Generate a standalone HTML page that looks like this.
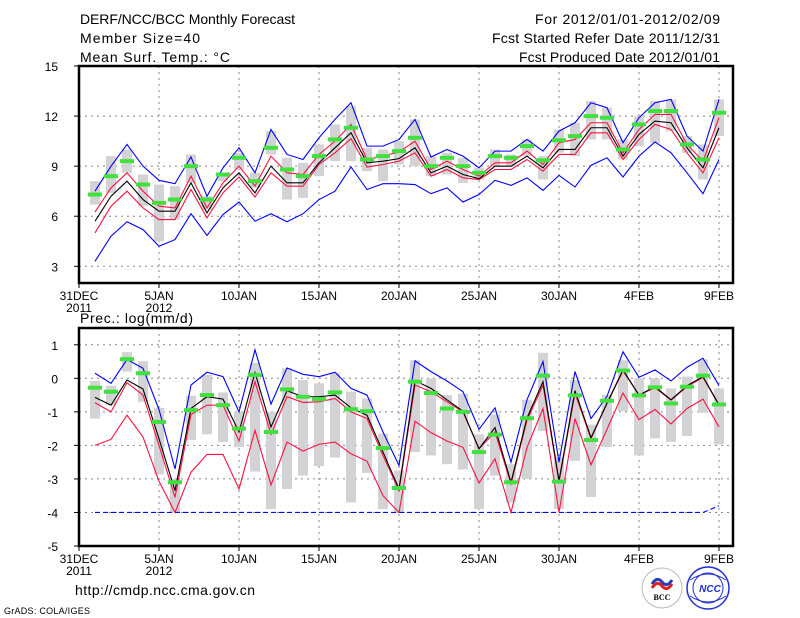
<!DOCTYPE html>
<html><head><meta charset="utf-8"><style>
html,body{margin:0;padding:0;background:#fff;}
svg{display:block;font-family:"Liberation Sans",sans-serif;}
</style></head><body>
<svg id="chart" width="800" height="618" viewBox="0 0 800 618" xmlns="http://www.w3.org/2000/svg">
<rect width="800" height="618" fill="#fff"/>
<g font-size="14" fill="#000">
<text x="80" y="24" textLength="215">DERF/NCC/BCC Monthly Forecast</text>
<text x="80" y="43" textLength="120">Member Size=40</text>
<text x="80" y="62" textLength="150">Mean Surf. Temp.: °C</text>
<text x="535" y="24" textLength="185">For 2012/01/01-2012/02/09</text>
<text x="492" y="43" textLength="228">Fcst Started Refer Date 2011/12/31</text>
<text x="519" y="62" textLength="201">Fcst Produced Date 2012/01/01</text>
<text x="80" y="323" textLength="113">Prec.: log(mm/d)</text>
<text x="75" y="595" textLength="180">http://cmdp.ncc.cma.gov.cn</text>
<text x="4" y="614" font-size="9" textLength="86">GrADS: COLA/IGES</text>
</g>
<g>
<circle cx="662" cy="588" r="20" fill="#fff" stroke="#bbb" stroke-width="1"/>
<path d="M652 584 q5 -8 10 -2 q5 6 10 -2" fill="none" stroke="#2040c0" stroke-width="3"/>
<path d="M652 588 q5 -8 10 -2 q5 6 10 -2" fill="none" stroke="#e02020" stroke-width="3"/>
<text x="662" y="600" font-size="8" font-weight="bold" text-anchor="middle" font-family="Liberation Serif,serif">BCC</text>
</g>
<g>
<circle cx="708" cy="588" r="21" fill="#fff" stroke="#2030d0" stroke-width="1.5"/>
<circle cx="708" cy="588" r="15" fill="none" stroke="#2030d0" stroke-width="1"/>
<path d="M690 580 q18 -12 36 0 M690 596 q18 12 36 0" fill="none" stroke="#2030d0" stroke-width="1"/>
<text x="710" y="592" font-size="10" font-weight="bold" font-style="italic" fill="#2030d0" text-anchor="middle">NCC</text>
</g>
<g id="top"></g>
<g id="bot"></g>
</svg>
<script>
const NS="http://www.w3.org/2000/svg";
const dayLabels=["31DEC","5JAN","10JAN","15JAN","20JAN","25JAN","30JAN","4FEB","9FEB"];
const yearLabels=["2011","2012"];
const tTicks=[3,6,9,12,15];
const pTicks=[-5,-4,-3,-2,-1,0,1];
// Temperature series (days 1..40)
const tBlueHi=[7.5,9.0,10.3,9.0,8.15,7.95,9.55,7.2,8.9,10.1,8.6,11.2,9.7,9.4,10.7,11.8,12.8,10.2,10.2,10.6,11.8,9.55,10.0,9.6,8.9,9.9,9.9,10.6,9.9,11.1,11.6,12.8,12.5,10.4,11.9,12.8,13.0,10.8,9.9,13.0];
const tBlueLo=[3.3,4.8,5.67,5.2,4.2,4.6,6.15,4.85,6.1,6.85,5.7,6.15,5.67,6.15,7.0,7.5,8.95,7.6,7.95,7.95,7.9,7.35,7.7,6.85,7.3,8.15,7.85,8.3,7.55,8.45,7.75,9.05,9.5,8.35,9.6,10.45,9.8,8.6,7.35,9.4];
const tMean=[5.7,7.2,8.1,7.0,6.3,6.3,8.0,6.2,7.7,8.6,7.4,9.0,8.0,8.0,9.2,10.1,11.0,9.2,9.3,9.45,10.1,8.6,9.0,8.5,8.25,9.0,9.0,9.6,8.9,10.0,10.0,11.3,11.3,9.6,10.9,11.7,11.6,10.1,8.9,11.3];
const tRedHi=[6.25,7.7,8.6,7.5,6.6,6.5,8.4,6.5,8.0,9.0,7.8,9.6,8.6,8.5,9.7,10.5,11.5,9.4,9.6,9.85,10.5,8.8,9.3,8.8,8.4,9.2,9.2,9.9,9.1,10.4,10.6,11.6,11.6,9.8,11.2,12.1,12.1,10.3,9.3,11.9];
const tRedLo=[5.0,6.6,7.5,6.5,5.8,5.8,7.6,5.9,7.4,8.35,7.15,8.6,7.8,7.8,9.1,9.8,10.65,8.95,9.1,9.3,9.8,8.4,8.8,8.3,8.2,8.8,8.8,9.4,8.7,9.7,9.7,11.0,11.0,9.4,10.6,11.5,11.2,9.8,8.6,10.7];
const tObs=[7.3,8.4,9.3,7.9,6.8,7.0,9.0,7.0,8.5,9.5,8.1,10.1,8.8,8.4,9.6,10.6,11.3,9.4,9.6,9.9,10.7,9.0,9.5,9.0,8.6,9.6,9.5,10.2,9.35,10.55,10.8,12.0,11.9,10.0,11.5,12.3,12.3,10.3,9.4,12.2];
const tBoxLo=[6.7,7.4,8.6,6.6,4.5,5.8,8.0,6.4,8.1,8.8,7.7,9.7,7.0,7.1,8.4,9.3,9.3,8.7,8.1,9.1,9.0,8.4,8.5,8.0,8.2,9.0,9.0,9.6,8.2,9.8,9.6,10.6,10.6,9.4,10.2,10.4,11.1,9.8,8.2,10.8];
const tBoxHi=[8.1,9.6,10.0,8.5,7.9,7.8,9.7,7.2,8.5,9.8,8.6,11.1,9.5,9.2,10.3,11.5,12.6,10.1,10.0,10.5,11.8,9.6,9.8,9.5,8.9,10.0,9.7,10.6,9.6,11.2,11.6,12.9,12.5,10.6,12.0,12.9,13.0,10.8,10.3,13.0];
// Precipitation series log(mm/d)
const pBlueHi=[0.15,-0.15,0.56,0.3,-0.93,-2.7,-0.2,0.18,0.05,-1.0,0.85,-0.77,0.31,0.12,0.05,0.18,-0.3,-0.5,-1.6,-2.6,0.52,0.2,-0.08,-0.4,-1.52,-0.88,-2.5,-0.64,0.5,-2.5,0.2,-1.2,-0.54,0.79,0.03,0.25,-0.08,0.33,0.6,-0.22];
const pBlueLo=[-4,-4,-4,-4,-4,-4,-4,-4,-4,-4,-4,-4,-4,-4,-4,-4,-4,-4,-4,-4,-4,-4,-4,-4,-4,-4,-4,-4,-4,-4,-4,-4,-4,-4,-4,-4,-4,-4,-4,-3.8];
const pMean=[-0.57,-0.8,-0.05,-0.32,-1.8,-3.35,-0.9,-0.55,-0.62,-1.6,0.17,-1.45,-0.37,-0.55,-0.55,-0.5,-0.88,-1.1,-2.2,-3.3,-0.07,-0.3,-0.64,-0.98,-2.1,-1.47,-3.1,-1.18,-0.1,-3.05,-0.37,-1.77,-0.74,0.25,-0.5,-0.25,-0.64,-0.22,0.05,-0.79];
const pRedHi=[-0.73,-1.0,-0.13,-0.5,-2.0,-3.55,-1.08,-0.8,-0.8,-1.87,-0.1,-1.67,-0.55,-0.72,-0.7,-0.6,-1.0,-1.2,-2.3,-3.35,-0.2,-0.4,-0.7,-1.0,-2.1,-1.6,-3.15,-1.25,-0.2,-3.1,-0.45,-1.8,-0.75,0.22,-0.5,-0.28,-0.65,-0.25,0.03,-0.8];
const pRedLo=[-2.0,-1.82,-1.1,-1.75,-3.07,-4,-2.8,-2.27,-2.27,-3.3,-1.55,-3.18,-1.9,-2.17,-1.97,-1.9,-2.25,-2.47,-3.5,-4,-1.28,-1.62,-1.87,-2.06,-3.12,-2.4,-4,-2.06,-0.9,-4,-1.2,-2.58,-1.52,-0.44,-1.23,-0.93,-1.36,-0.9,-0.62,-1.45];
const pObs=[-0.28,-0.4,0.57,0.15,-1.3,-3.1,-0.95,-0.5,-0.8,-1.5,0.1,-1.6,-0.33,-0.55,-0.62,-0.42,-0.92,-0.98,-2.08,-3.27,-0.1,-0.44,-0.9,-1.0,-2.2,-1.68,-3.1,-1.19,0.08,-3.08,-0.51,-1.84,-0.67,0.23,-0.51,-0.27,-0.75,-0.25,0.08,-0.78];
const pBoxLo=[-1.2,-0.8,0.2,-0.7,-2.87,-4,-1.84,-1.67,-1.9,-2.05,-2.78,-3.9,-3.3,-2.9,-2.62,-2.36,-3.7,-2.82,-3.9,-4,-2.2,-2.3,-2.56,-2.72,-3.9,-2.9,-3.7,-3.0,-1.57,-3.9,-2.46,-3.54,-2.05,-0.98,-2.3,-1.79,-1.9,-1.72,-1.03,-1.97];
const pBoxHi=[-0.08,-0.22,0.78,0.51,-0.88,-3.0,-0.52,0.1,-0.42,-1.0,0.46,-1.0,0.3,-0.05,-0.15,0.17,-0.4,-0.6,-1.65,-2.75,0.54,0.0,-0.5,-0.46,-1.67,-1.08,-2.56,-0.64,0.76,-2.36,-0.05,-1.38,-0.5,0.54,0.0,0.0,-0.3,0.05,0.56,-0.3];

function mk(parent,tag,attrs,name,inter){
  const e=document.createElementNS(NS,tag);
  for(const k in attrs)e.setAttribute(k,attrs[k]);
  
  
  parent.appendChild(e);return e;
}
const xd=d=>79+16*d;
function panel(g,top,bottom,vmin,vmax,ticks,S,prefix){
  const y=v=>bottom-(v-vmin)/(vmax-vmin)*(bottom-top);
  for(let i=0;i<=8;i++){
    mk(g,'line',{x1:xd(i*5),x2:xd(i*5),y1:top,y2:bottom,stroke:'#888','stroke-dasharray':'2,4','stroke-width':1},prefix+'-vgrid','false');
  }
  ticks.forEach(t=>{
    if(t>vmin&&t<vmax) mk(g,'line',{x1:79,x2:733,y1:y(t),y2:y(t),stroke:'#888','stroke-dasharray':'2,4','stroke-width':1},prefix+'-hgrid','false');
    const tx=mk(g,'text',{x:58,y:y(t)+5,'text-anchor':'end','font-size':12},prefix+'-y-tick-label','false');tx.textContent=t;
    mk(g,'line',{x1:74,x2:79,y1:y(t),y2:y(t),stroke:'#000'},prefix+'-y-tick','false');
  });
  S.boxLo.forEach((lo,i)=>{const hi=S.boxHi[i];
    mk(g,'rect',{x:xd(i+1)-5,y:y(hi),width:10,height:Math.max(1,y(lo)-y(hi)),fill:'#d3d3d6'},prefix+'-spread-bar','false');});
  const line=(arr,col,name,dash)=>{
    const a={points:arr.map((v,i)=>xd(i+1)+','+y(v)).join(' '),fill:'none',stroke:col,'stroke-width':1.1};
    if(dash)a['stroke-dasharray']=dash;
    mk(g,'polyline',a,name,'false');};
  line(S.blueLo,'#0000ff',prefix+'-min-line',S.dashed?'5,3':null);
  line(S.blueHi,'#0000ff',prefix+'-max-line');
  line(S.redLo,'#ff1040',prefix+'-lower-line');
  line(S.redHi,'#ff1040',prefix+'-upper-line');
  line(S.mean,'#000',prefix+'-mean-line');
  S.obs.forEach((v,i)=>mk(g,'rect',{x:xd(i+1)-7,y:y(v)-2,width:14,height:4,fill:'#40e040'},prefix+'-obs-marker','false'));
  mk(g,'rect',{x:79,y:top,width:654,height:bottom-top,fill:'none',stroke:'#000','stroke-width':2.5},prefix+'-frame','false');
  dayLabels.forEach((lab,i)=>{
    mk(g,'line',{x1:xd(i*5),x2:xd(i*5),y1:bottom,y2:bottom+5,stroke:'#000'},prefix+'-x-tick','false');
    const t=mk(g,'text',{x:xd(i*5),y:bottom+17,'text-anchor':'middle','font-size':12},prefix+'-x-tick-label','false');t.textContent=lab;
  });
  yearLabels.forEach((lab,i)=>{const t=mk(g,'text',{x:xd(i*5),y:bottom+29,'text-anchor':'middle','font-size':12},prefix+'-year-label','false');t.textContent=lab;});
}
panel(document.getElementById('top'),66,283,2,15,tTicks,{blueHi:tBlueHi,blueLo:tBlueLo,mean:tMean,redHi:tRedHi,redLo:tRedLo,obs:tObs,boxLo:tBoxLo,boxHi:tBoxHi},'temp');
panel(document.getElementById('bot'),328,546,-5,1.5,pTicks,{blueHi:pBlueHi,blueLo:pBlueLo,mean:pMean,redHi:pRedHi,redLo:pRedLo,obs:pObs,boxLo:pBoxLo,boxHi:pBoxHi,dashed:true},'prec');
</script>
</body></html>
